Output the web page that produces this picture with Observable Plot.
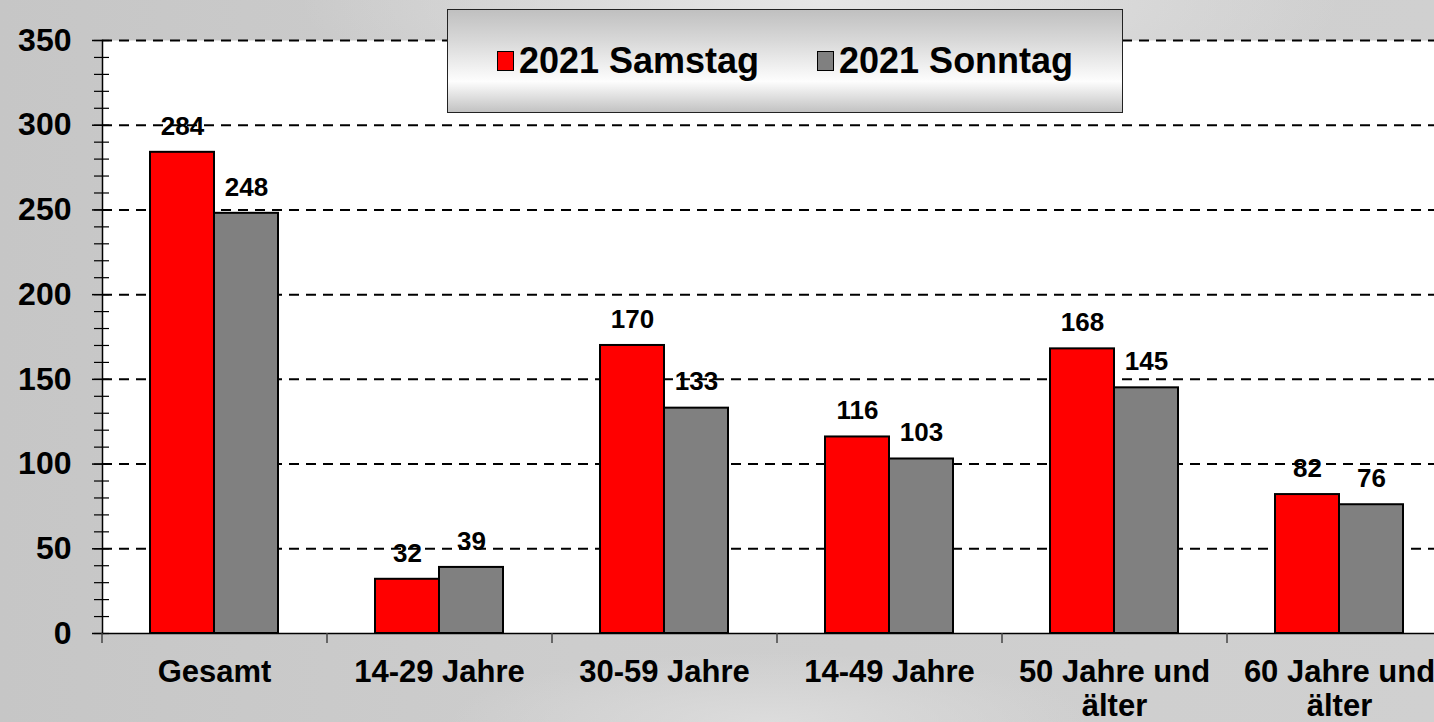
<!DOCTYPE html>
<html>
<head>
<meta charset="utf-8">
<script src="https://cdn.jsdelivr.net/npm/d3@7"></script>
<script src="https://cdn.jsdelivr.net/npm/@observablehq/plot@0.6"></script>
<style>
html, body { margin: 0; padding: 0; width: 1434px; height: 722px; overflow: hidden; }
body {
  position: relative;
  font-family: "Liberation Sans", Arial, sans-serif;
  background:
    radial-gradient(ellipse 520px 140px at 820px 0px, #e6e6e6 0%, rgba(230,230,230,0) 100%),
    radial-gradient(ellipse 320px 70px at 770px 722px, #dcdcdc 0%, rgba(220,220,220,0) 100%),
    linear-gradient(90deg, #c6c6c6 0%, #cdcdcd 40%, #d0d0d0 100%);
}
#chart { position: absolute; left: 0; top: 0; width: 1452px; }
#legend {
  position: absolute; left: 447px; top: 9px; width: 674px; height: 102px;
  border: 1.5px solid #222;
  background: linear-gradient(180deg, #c0c0c0 0%, #d8d8d8 30%, #f6f6f6 62%, #fdfdfd 70%, #c2c2c2 100%);
  display: flex; align-items: center; justify-content: center; gap: 58px;
  font-weight: bold; font-size: 36px; color: #000;
}
#legend .item { display: flex; align-items: center; gap: 5px; }
#legend .sw { width: 15px; height: 18px; border: 1.5px solid #000; }
</style>
</head>
<body>
<div id="chart"></div>
<div id="legend"></div>
<script>
const categories = ["Gesamt", "14-29 Jahre", "30-59 Jahre", "14-49 Jahre", "50 Jahre und älter", "60 Jahre und älter"];
const categoryLabels = ["Gesamt", "14-29 Jahre", "30-59 Jahre", "14-49 Jahre", "50 Jahre und\nälter", "60 Jahre und\nälter"];
const seriesNames = ["2021 Samstag", "2021 Sonntag"];
const seriesColors = ["#ff0000", "#808080"];
const samstag = [284, 32, 170, 116, 168, 82];
const sonntag = [248, 39, 133, 103, 145, 76];
const yTicks = [0, 50, 100, 150, 200, 250, 300, 350];
const yMinorTicks = [0,10,20,30,40,50,60,70,80,90,100,110,120,130,140,150,160,170,180,190,200,210,220,230,240,250,260,270,280,290,300,310,320,330,340,350];
const gridValues = [50, 100, 150, 200, 250, 300, 350];

const rows = categories.map((c, i) => ({category: c, samstag: samstag[i], sonntag: sonntag[i]}));
const font = "'Liberation Sans', Arial, sans-serif";

const plot = Plot.plot({
  width: 1452, height: 722,
  marginLeft: 102, marginRight: 0, marginTop: 40, marginBottom: 89,
  style: {background: "transparent", fontFamily: font, color: "#000", overflow: "visible", maxWidth: "none"},
  x: {domain: categories, paddingInner: 0.431, paddingOuter: 0.2155, label: null},
  y: {domain: [0, 350], label: null},
  marks: [
    Plot.frame({fill: "white", stroke: null}),
    Plot.ruleY(gridValues, {stroke: "#000", strokeWidth: 2, strokeDasharray: "10,7"}),
    Plot.barY(rows, {x: "category", y: "samstag", fill: seriesColors[0], stroke: "#000", strokeWidth: 2, insetRight: 64}),
    Plot.barY(rows, {x: "category", y: "sonntag", fill: seriesColors[1], stroke: "#000", strokeWidth: 2, insetLeft: 64}),
    Plot.text(rows, {x: "category", y: "samstag", text: "samstag", dx: -32, dy: -26, fontSize: 26, fontWeight: "bold", fill: "#000"}),
    Plot.text(rows, {x: "category", y: "sonntag", text: "sonntag", dx: 32, dy: -26, fontSize: 26, fontWeight: "bold", fill: "#000"}),
    Plot.frame({anchor: "left", stroke: "#000", strokeWidth: 1.5}),
    Plot.frame({anchor: "bottom", stroke: "#000", strokeWidth: 1.5}),
    Plot.axisY(yTicks, {tickSize: 10, tickPadding: 21, fontSize: 32, fontWeight: "bold", strokeWidth: 1.5, label: null}),
    Plot.axisY(yMinorTicks, {tickSize: 15, dx: 7, tickFormat: () => "", strokeWidth: 1.2, label: null}),
    Plot.axisX({tickSize: 0, tickPadding: 24, fontSize: 31, fontWeight: "bold", lineHeight: 1.1,
      tickFormat: d => categoryLabels[categories.indexOf(d)], label: null}),
    Plot.axisX({tickSize: 10, dx: -112.5, tickFormat: () => "", stroke: "#444", strokeWidth: 1.5, label: null})
  ]
});
document.getElementById("chart").appendChild(plot);

const legend = document.getElementById("legend");
seriesNames.forEach((name, i) => {
  const item = document.createElement("div");
  item.className = "item";
  const sw = document.createElement("div");
  sw.className = "sw";
  sw.style.background = seriesColors[i];
  const label = document.createElement("span");
  label.textContent = name;
  item.appendChild(sw);
  item.appendChild(label);
  legend.appendChild(item);
});
</script>
</body>
</html>
